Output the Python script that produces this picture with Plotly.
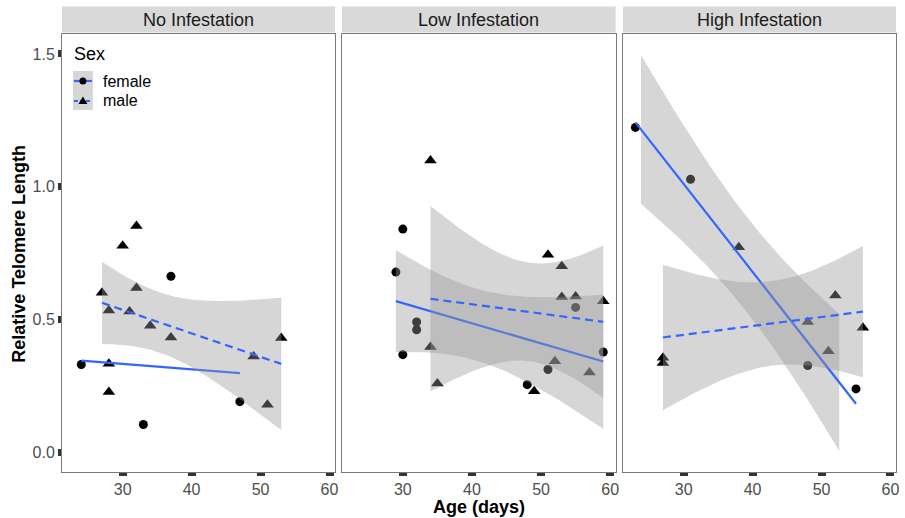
import numpy as np
import plotly.graph_objects as go

# ---------------- data ----------------
panels = ["No Infestation", "Low Infestation", "High Infestation"]

no_f_age = [24, 33, 37, 47]
no_f_rtl = [0.33, 0.104, 0.662, 0.19]
no_m_age = [27, 28, 28, 28, 30, 31, 32, 32, 34, 37, 49, 51, 53]
no_m_rtl = [0.60, 0.533, 0.333, 0.226, 0.777, 0.53, 0.618, 0.852, 0.476, 0.432, 0.36, 0.178, 0.43]

low_f_age = [29, 30, 30, 32, 32, 48, 51, 55, 59]
low_f_rtl = [0.678, 0.84, 0.367, 0.49, 0.461, 0.254, 0.311, 0.545, 0.377]
low_m_age = [34, 34, 35, 49, 51, 52, 53, 53, 55, 57, 59]
low_m_rtl = [1.098, 0.396, 0.258, 0.229, 0.743, 0.342, 0.70, 0.584, 0.586, 0.30, 0.568]

high_f_age = [23, 31, 48, 55]
high_f_rtl = [1.223, 1.028, 0.326, 0.238]
high_m_age = [27, 27, 38, 48, 51, 52, 56]
high_m_rtl = [0.355, 0.336, 0.772, 0.49, 0.38, 0.59, 0.468]

female_age = [no_f_age, low_f_age, high_f_age]
female_rtl = [no_f_rtl, low_f_rtl, high_f_rtl]
male_age = [no_m_age, low_m_age, high_m_age]
male_rtl = [no_m_rtl, low_m_rtl, high_m_rtl]

sex_labels = ["female", "male"]
x_ticks = [30, 40, 50, 60]
y_ticks = [0.0, 0.5, 1.0, 1.5]
y_tick_text = ["0.0", "0.5", "1.0", "1.5"]
y_limits = (0.0, 1.5)

# Student t 0.975 quantiles (statistical constants for 95% CI)
T975 = {1: 12.706, 2: 4.303, 3: 3.182, 4: 2.776, 5: 2.571, 6: 2.447, 7: 2.365,
        8: 2.306, 9: 2.262, 10: 2.228, 11: 2.201, 12: 2.179, 13: 2.160,
        14: 2.145, 15: 2.131, 16: 2.120, 17: 2.110, 18: 2.101, 19: 2.093, 20: 2.086}

BLUE = "#3366FF"
RIBBON = "rgba(153,153,153,0.4)"
FONT = "Liberation Sans, Arial, sans-serif"
DASH = "8px,5px"


def lm_smooth(x, y, n=80):
    x = np.asarray(x, float)
    y = np.asarray(y, float)
    b, a = np.polyfit(x, y, 1)
    grid = np.linspace(x.min(), x.max(), n)
    fit = a + b * grid
    resid = y - (a + b * x)
    df = len(x) - 2
    s = np.sqrt(np.sum(resid ** 2) / df)
    sxx = np.sum((x - x.mean()) ** 2)
    se = s * np.sqrt(1.0 / len(x) + (grid - x.mean()) ** 2 / sxx)
    t = T975[df]
    return grid, fit, fit - t * se, fit + t * se


def segments(mask):
    segs, start = [], None
    for i, m in enumerate(mask):
        if m and start is None:
            start = i
        if not m and start is not None:
            segs.append((start, i))
            start = None
    if start is not None:
        segs.append((start, len(mask)))
    return segs


# ---------------- layout geometry ----------------
W, H = 905, 518
L, R, T, B = 62, 6, 34, 46
pw = W - L - R
ph = H - T - B
px_edges = [(62, 336), (343, 617.7), (625, 899)]
domains = [[(a - L) / pw, (b - L) / pw] for a, b in px_edges]


def fx(px):
    return (px - L) / pw


def fy(py):
    return 1 - (py - T) / ph


fig = go.Figure()

for i in range(3):
    xa = "x" if i == 0 else f"x{i+1}"
    ya = "y" if i == 0 else f"y{i+1}"
    # points first (ggplot layer order)
    fig.add_trace(go.Scatter(x=female_age[i], y=female_rtl[i], mode="markers", xaxis=xa, yaxis=ya,
                             name=sex_labels[0], marker=dict(symbol="circle", size=9, color="black"),
                             showlegend=False, hoverinfo="skip"))
    fig.add_trace(go.Scatter(x=male_age[i], y=male_rtl[i], mode="markers", xaxis=xa, yaxis=ya,
                             name=sex_labels[1], marker=dict(symbol="triangle-up", size=11, color="black"),
                             showlegend=False, hoverinfo="skip"))
    # smooths
    for ages, vals, dash in [(female_age[i], female_rtl[i], "solid"),
                             (male_age[i], male_rtl[i], DASH)]:
        g, f, lo, hi = lm_smooth(ages, vals)
        ok = (lo >= y_limits[0]) & (hi <= y_limits[1])
        for s0, s1 in segments(ok):
            gx = list(g[s0:s1]) + list(g[s0:s1][::-1])
            gy = list(hi[s0:s1]) + list(lo[s0:s1][::-1])
            fig.add_trace(go.Scatter(x=gx, y=gy, mode="lines", fill="toself", fillcolor=RIBBON,
                                     line=dict(width=0, color="rgba(0,0,0,0)"), xaxis=xa, yaxis=ya,
                                     showlegend=False, hoverinfo="skip"))
        fig.add_trace(go.Scatter(x=g, y=f, mode="lines", xaxis=xa, yaxis=ya,
                                 line=dict(color=BLUE, width=2.2, dash=dash),
                                 showlegend=False, hoverinfo="skip"))

axis_common = dict(range=[21.2, 60.8], showgrid=False, zeroline=False, showline=True, mirror=True,
                   linecolor="#7a7a7a", linewidth=1, ticks="outside", ticklen=3, tickwidth=8,
                   tickcolor="#333333", tickvals=x_ticks,
                   tickfont=dict(family=FONT, size=16, color="#4d4d4d"))
yaxis_common = dict(range=[-0.075, 1.575], showgrid=False, zeroline=False, showline=True, mirror=True,
                    linecolor="#7a7a7a", linewidth=1)

layout = dict(width=W, height=H, margin=dict(l=L, r=R, t=T, b=B),
              paper_bgcolor="white", plot_bgcolor="white", showlegend=False,
              font=dict(family=FONT, color="#1a1a1a"))
for i in range(3):
    sx = "xaxis" if i == 0 else f"xaxis{i+1}"
    sy = "yaxis" if i == 0 else f"yaxis{i+1}"
    layout[sx] = dict(axis_common, domain=domains[i], anchor="y" if i == 0 else f"y{i+1}")
    yd = dict(yaxis_common, domain=[0, 1], anchor="x" if i == 0 else f"x{i+1}")
    if i == 0:
        yd.update(ticks="outside", ticklen=3, tickwidth=7, tickcolor="#333333",
                  tickvals=y_ticks, ticktext=y_tick_text,
                  tickfont=dict(family=FONT, size=16, color="#4d4d4d"))
    else:
        yd.update(showticklabels=False, ticks="")
    layout[sy] = yd
fig.update_layout(**layout)

shapes, annots = [], []
# strips
for i, (a, b) in enumerate(px_edges):
    shapes.append(dict(type="rect", xref="paper", yref="paper", x0=domains[i][0], x1=domains[i][1],
                       y0=fy(32.5), y1=fy(6.5), fillcolor="#d9d9d9", line=dict(width=0),
                       layer="above"))
    annots.append(dict(text=panels[i], xref="paper", yref="paper", x=(domains[i][0] + domains[i][1]) / 2,
                       y=fy(20), xanchor="center", yanchor="middle", showarrow=False,
                       font=dict(family=FONT, size=18, color="#1a1a1a")))

# legend (drawn manually to match ggplot key layout)
shapes.append(dict(type="rect", xref="paper", yref="paper", x0=fx(73), x1=fx(93),
                   y0=fy(110), y1=fy(71), fillcolor="#d6d6d6", line=dict(width=0), layer="above"))
shapes.append(dict(type="line", xref="paper", yref="paper", x0=fx(74), x1=fx(92), y0=fy(81), y1=fy(81),
                   line=dict(color=BLUE, width=2.2), layer="above"))
shapes.append(dict(type="line", xref="paper", yref="paper", x0=fx(74), x1=fx(92), y0=fy(101), y1=fy(101),
                   line=dict(color=BLUE, width=2.2, dash="4px,2px"), layer="above"))
shapes.append(dict(type="circle", xref="paper", yref="paper", x0=fx(79.5), x1=fx(86.5), y0=fy(84.5),
                   y1=fy(77.5), fillcolor="black", line=dict(width=0), layer="above"))
tri = f"M {fx(78.5)},{fy(104)} L {fx(87.5)},{fy(104)} L {fx(83)},{fy(96.5)} Z"
shapes.append(dict(type="path", xref="paper", yref="paper", path=tri, fillcolor="black",
                   line=dict(width=0), layer="above"))
annots.append(dict(text="Sex", xref="paper", yref="paper", x=fx(72.5), y=fy(54), xanchor="left",
                   yanchor="middle", showarrow=False, font=dict(family=FONT, size=18, color="black")))
for lab, py in zip(sex_labels, [81, 100.5]):
    annots.append(dict(text=lab, xref="paper", yref="paper", x=fx(101), y=fy(py), xanchor="left",
                       yanchor="middle", showarrow=False, font=dict(family=FONT, size=16, color="black")))

# axis titles
annots.append(dict(text="<b>Age (days)</b>", xref="paper", yref="paper", x=0.5, y=fy(507),
                   xanchor="center", yanchor="middle", showarrow=False,
                   font=dict(family=FONT, size=18, color="black")))
annots.append(dict(text="<b>Relative Telomere Length</b>", xref="paper", yref="paper",
                   x=fx(18.5), y=fy(254), xanchor="center", yanchor="middle",
                   textangle=-90, showarrow=False, font=dict(family=FONT, size=18, color="black")))
fig.update_layout(shapes=shapes, annotations=annots)

fig.write_html("out.html")
